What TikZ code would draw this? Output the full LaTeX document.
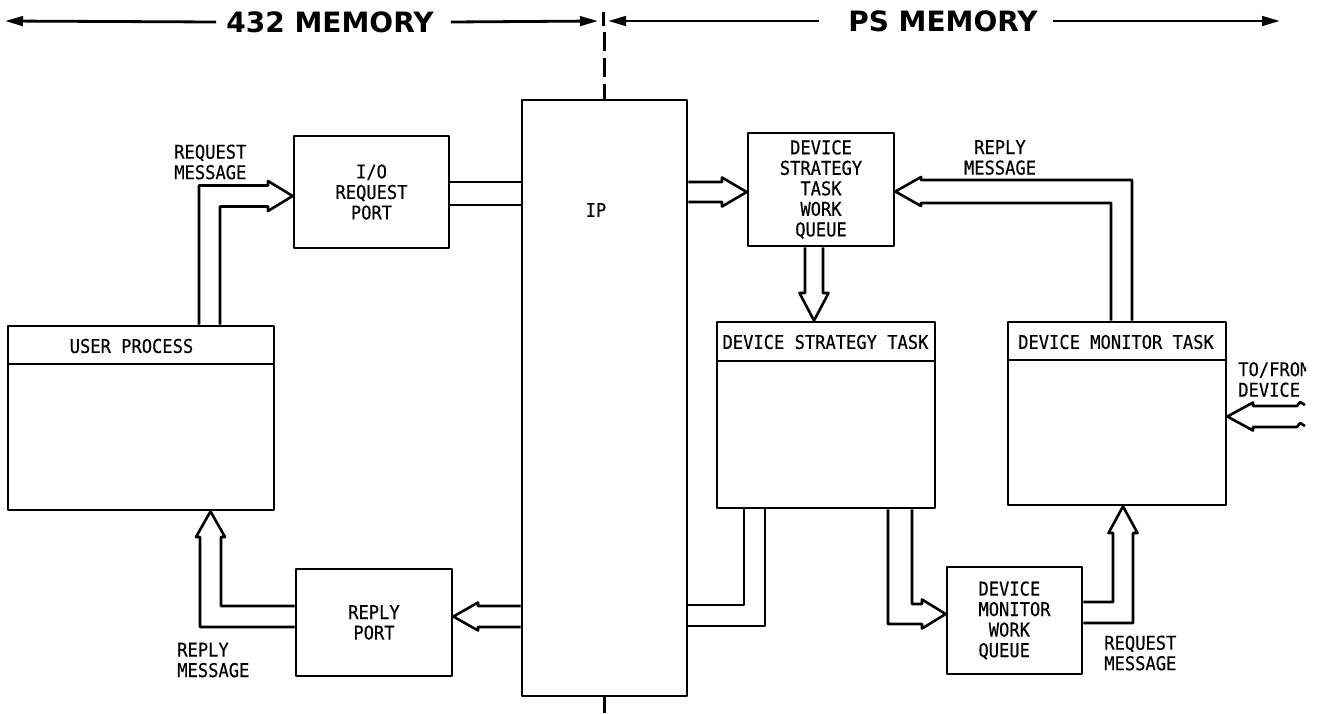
\documentclass[tikz,border=0pt]{standalone}
\usepackage{fontspec}
\newfontfamily\labfont{DejaVu Sans Mono}[FakeStretch=0.9,FakeBold=0.4]
\newfontfamily\hdrfont{DejaVu Sans}
\usetikzlibrary{arrows.meta,calc}
\begin{document}
\begin{tikzpicture}[x=1pt,y=-1pt,line width=2.6pt,line join=round,
  box/.style={draw,line width=2.7pt,inner sep=0pt,align=center,
    font=\labfont\fontsize{19}{20.5}\selectfont},
  lbl/.style={inner sep=0pt,align=left,font=\labfont\fontsize{19}{20.5}\selectfont},
  memlbl/.style={inner sep=0pt,font=\hdrfont\bfseries\fontsize{28}{28}\selectfont},
  hdrarrow/.style={line width=2.8pt,-{Triangle[length=18pt,width=9.5pt]}},
  hollow/.style={line width=2.6pt,line join=round},
  sep/.style={line width=2.7pt}]
\useasboundingbox (0,0) rectangle (1319,713);
\clip (0,0) rectangle (1319,713);

% ---------- header ----------
\node[memlbl] (m432) at (330,22) {432 MEMORY};
\node[memlbl] (mps) at (943,21) {PS MEMORY};
\coordinate (lend) at (5,21);
\coordinate (midL) at (598,21);
\coordinate (midR) at (608,21);
\coordinate (rend) at (1280,21);
\coordinate (ticktop) at (603.5,12);
\coordinate (tickbot) at (603.5,26);
\draw[hdrarrow] ([xshift=-9pt]m432.west) -- (lend);
\draw[hdrarrow] ([xshift=16pt]m432.east) -- (midL);
\draw[hdrarrow] ([xshift=-28pt]mps.west) -- (midR);
\draw[hdrarrow] ([xshift=14pt]mps.east) -- (rend);
\draw[sep] (ticktop) -- (tickbot);

% ---------- boxes ----------
\node[box,minimum width=266pt,minimum height=184pt] (user) at (141,418) {};
\node[lbl] (userhdr) at (131.5,346) {USER PROCESS};
\draw[sep] (user.west |- 0,364) -- (user.east |- 0,364);

\node[box,minimum width=155pt,minimum height=112pt] (io) at (371.5,192) {I/O\\REQUEST\\PORT};
\node[box,minimum width=156pt,minimum height=107pt] (reply) at (374,622.5) {REPLY\\PORT};
\node[box,minimum width=165pt,minimum height=596pt] (ip) at (604.5,398) {};
\node[lbl] (iplbl) at (596,210) {IP};

\node[box,minimum width=146pt,minimum height=113pt] (dstwq) at (821,189.5)
  {DEVICE\\STRATEGY\\TASK\\WORK\\QUEUE};
\node[box,minimum width=218pt,minimum height=186pt] (dst) at (826,415) {};
\node[lbl] (dsthdr) at (825.5,342) {DEVICE STRATEGY TASK};
\draw[sep] (dst.west |- 0,361) -- (dst.east |- 0,361);

\node[box,minimum width=218pt,minimum height=183pt] (dmt) at (1117,413.5) {};
\node[lbl] (dmthdr) at (1116,342) {DEVICE MONITOR TASK};
\draw[sep] (dmt.west |- 0,360) -- (dmt.east |- 0,360);

\node[box,minimum width=135pt,minimum height=107pt,align=left] (dmwq) at (1014.5,620.5)
  {DEVICE\\MONITOR\\\phantom{X}WORK\\QUEUE};

% ---------- labels ----------
\node[lbl,anchor=west] (reqmsg1) at (173,162) {REQUEST\\MESSAGE};
\node[lbl,anchor=west] (repmsg1) at (176,660) {REPLY\\MESSAGE};
\node[lbl,align=center] (repmsg2) at (1000,157.5) {REPLY\\MESSAGE};
\node[lbl,anchor=west] (reqmsg2) at (1103,653) {REQUEST\\MESSAGE};
\begin{scope}
  \clip (0,0) rectangle (1306,713);
  \node[lbl,anchor=west] (tofrom) at (1237,379.5) {TO/FROM\\DEVICE};
\end{scope}

% ---------- dashed divider ----------
\coordinate (dashtop) at (604.5,32);
\coordinate (botend) at (604.5,713);
\draw[sep,dash pattern=on 19pt off 7pt,line cap=butt] (dashtop) -- (ip.north);
\draw[sep] (ip.south) -- (botend);

% ---------- hollow arrows ----------
% user process -> I/O request port
\draw[hollow] (199,0 |- user.north) -- (199,185.5) -- (268,185.5) -- (268,181)
  -- (io.west |- 0,196) -- (268,211) -- (268,206.5) -- (220,206.5) -- (220,0 |- user.north);
% I/O request port -> IP
\draw[hollow] (io.east |- 0,182) -- (ip.west |- 0,182);
\draw[hollow] (io.east |- 0,205) -- (ip.west |- 0,205);
% IP -> device strategy task work queue
\draw[hollow] (ip.east |- 0,182) -- (722,182) -- (722,177.5)
  -- (dstwq.west |- 0,192) -- (722,206.5) -- (722,202) -- (ip.east |- 0,202);
% work queue -> device strategy task
\draw[hollow] (805,0 |- dstwq.south) -- (805,293) -- (799.5,293)
  -- (814,0 |- dst.north) -- (828.5,293) -- (823,293) -- (823,0 |- dstwq.south);
% device monitor task -> work queue (reply message)
\draw[hollow] (1132,0 |- dmt.north) -- (1132,180) -- (921,180) -- (921,177)
  -- (dstwq.east |- 0,191.5) -- (921,206) -- (921,203) -- (1111,203) -- (1111,0 |- dmt.north);
% IP -> reply port
\draw[hollow] (ip.west |- 0,606) -- (478,606) -- (478,602.5)
  -- (reply.east |- 0,616.5) -- (478,630.5) -- (478,627) -- (ip.west |- 0,627);
% reply port -> user process
\draw[hollow] (reply.west |- 0,606) -- (221,606) -- (221,537) -- (225,537)
  -- (210.5,0 |- user.south) -- (196,537) -- (200,537) -- (200,627) -- (reply.west |- 0,627);
% device strategy task -> IP
\draw[hollow] (744,0 |- dst.south) -- (744,605) -- (ip.east |- 0,605);
\draw[hollow] (765,0 |- dst.south) -- (765,626) -- (ip.east |- 0,626);
% device strategy task -> device monitor work queue
\draw[hollow] (888,0 |- dst.south) -- (888,624) -- (922,624) -- (922,628.5)
  -- (dmwq.west |- 0,614) -- (922,599.5) -- (922,604) -- (912,604) -- (912,0 |- dst.south);
% device monitor work queue -> device monitor task (request message)
\draw[hollow] (dmwq.east |- 0,602) -- (1113,602) -- (1113,533) -- (1108.5,533)
  -- (1123,0 |- dmt.south) -- (1137.5,533) -- (1133,533) -- (1133,623) -- (dmwq.east |- 0,623);
% to/from device -> device monitor task
\coordinate (devA) at (1305,405);
\coordinate (devB) at (1305,426);
\draw[hollow] (devA) -- (1300,402) -- (1297,406) -- (1253,406) -- (1253,402.5)
  -- (dmt.east |- 0,416.5) -- (1253,430.5) -- (1253,427) -- (1297,427) -- (1300,423) -- (devB);
\end{tikzpicture}
\end{document}
